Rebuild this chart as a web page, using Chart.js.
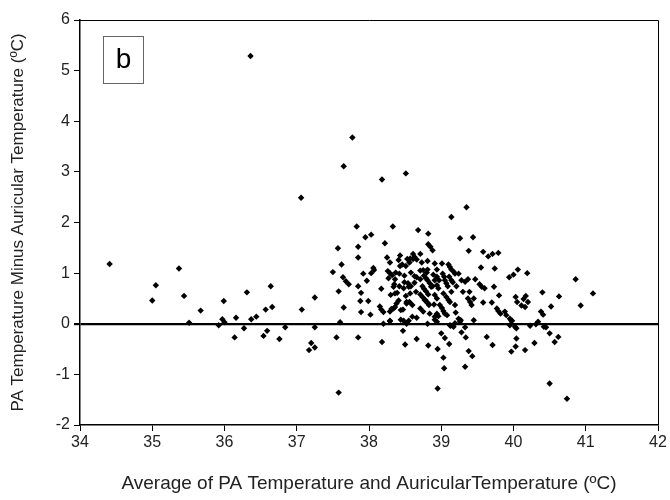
<!DOCTYPE html>
<html>
<head>
<meta charset="utf-8">
<script src="https://cdn.jsdelivr.net/npm/chart.js@4.4.1/dist/chart.umd.min.js"></script>
<style>
  html, body { margin: 0; padding: 0; background: #fff; }
</style>
</head>
<body>
<canvas id="chart" width="670" height="500"></canvas>
<script>
const xTicks = [34, 35, 36, 37, 38, 39, 40, 41, 42];
const yTicks = [-2, -1, 0, 1, 2, 3, 4, 5, 6];
const xTitle = 'Average of PA Temperature and AuricularTemperature (ºC)';
const yTitle = 'PA Temperature Minus Auricular Temperature (ºC)';
const panelLabel = 'b';

// [average temp, difference]
const points = [
  [34.41,1.18],[35.00,0.46],[35.05,0.76],[35.37,1.09],[35.44,0.55],[35.51,0.02],[35.67,0.26],[35.92,-0.03],
  [35.97,0.09],[36.00,0.03],[35.99,0.45],[36.14,-0.27],[36.16,0.12],[36.27,-0.09],[36.31,0.62],[36.37,0.09],
  [36.44,0.14],[36.54,-0.24],[36.57,0.28],[36.59,-0.14],[36.64,0.74],[36.66,0.33],[36.76,-0.30],[36.36,5.29],
  [36.84,-0.07],[37.25,-0.07],[37.07,0.28],[37.25,0.52],[37.06,2.49],[37.20,-0.38],[37.25,-0.47],[37.17,-0.52],
  [37.58,-1.36],[37.55,-0.27],[37.60,0.03],[37.65,0.32],
  [37.77,3.68],[37.65,3.11],[38.51,2.97],[38.18,2.85],[39.35,2.30],[39.14,2.11],[37.83,1.92],[38.33,1.92],
  [38.68,1.85],[38.82,1.78],[37.95,1.71],[38.03,1.76],[38.22,1.59],[39.26,1.69],[39.38,1.44],[37.57,1.49],
  [37.85,1.52],[37.85,1.31],[38.25,1.31],[38.43,1.35],[38.61,1.38],[38.71,1.38],[38.82,1.57],[38.85,1.52],
  [38.88,1.45],[38.57,1.29],[38.66,1.27],[39.44,1.71],[39.58,1.42],[39.65,1.33],[39.71,1.38],[39.79,1.40],
  [39.55,1.11],[39.74,1.09],[39.94,0.92],[40.00,0.97],[40.06,1.07],[40.19,1.00],[38.63,1.32],
  [40.86,0.88],[41.10,0.60],[40.93,0.36],[40.63,0.54],[40.40,0.62],[40.52,0.34],[40.38,0.24],[40.41,0.18],
  [40.45,-0.07],[40.50,-0.19],[40.57,-0.36],[40.62,-0.26],[40.50,-1.18],[40.74,-1.48],[40.29,-0.38],[40.16,-0.52],
  [40.04,-0.29],[40.03,-0.45],[39.97,-0.55],[39.98,0.06],[40.04,-0.09],[40.23,-0.04],[40.31,-0.01],[40.34,0.04],
  [40.42,-0.06],
  [38.82,-0.43],[38.95,-0.50],[39.00,-0.19],[39.05,-0.28],[39.11,-0.40],[39.03,-0.67],[39.04,-0.88],[38.95,-1.28],
  [39.13,-0.04],[39.19,0.01],[39.26,0.04],[39.33,-0.07],[39.28,-0.17],[39.34,-0.27],[39.38,-0.54],[39.43,-0.64],
  [39.33,-0.85],[39.63,-0.26],[39.71,-0.42],[38.47,-0.14],[38.50,-0.41],[38.66,-0.30],[37.85,-0.27],[38.18,-0.36],
  [38.20,0.00],[38.29,0.06],[38.48,0.06],[38.52,0.00],[38.55,0.06],[38.81,0.00],
  [38.29,1.21],[37.62,1.17],[37.50,1.02],[38.06,1.10],[38.07,1.06],[37.92,0.99],[38.03,1.00],[37.64,0.92],
  [37.68,0.84],[37.72,0.78],[37.97,0.85],[38.26,1.04],[38.29,1.00],[38.32,0.96],[38.43,1.14],[38.51,1.14],
  [38.56,1.21],[38.61,1.28],[38.41,1.26],[38.53,1.28],[38.46,1.17],
  [38.37,1.01],[38.42,0.99],[38.27,0.90],[38.36,0.88],[38.49,0.82],[38.55,0.73],[37.85,0.74],[37.89,0.61],
  [37.58,0.64],[38.17,0.69],[38.34,0.73],[38.39,0.61],[38.30,0.57],[38.57,0.60],
  [38.66,0.92],[38.71,0.88],[38.76,0.95],[38.80,1.01],[38.74,0.74],[38.76,0.69],[38.79,0.64],[38.82,0.58],
  [37.88,0.45],[37.99,0.45],[38.41,0.46],[38.38,0.40],[38.36,0.33],[38.52,0.43],[38.56,0.43],[38.77,0.47],
  [38.82,0.40],[38.15,0.34],[38.17,0.28],[38.20,0.23],[37.89,0.23],[38.02,0.18],[38.31,0.29],[38.47,0.28],
  [38.29,0.05],[38.44,0.08],[38.60,0.14],[38.66,0.12],
  [38.73,1.21],[38.81,1.24],[38.49,0.95],[38.58,1.01],[38.63,0.94],[38.71,1.05],[38.75,1.06],[38.81,1.07],
  [38.79,0.90],[38.81,0.86],[38.84,0.80],[38.88,0.74],[38.94,0.93],[38.97,0.86],
  [38.35,0.78],[38.42,0.74],[38.48,0.70],[38.54,0.80],[38.58,0.74],[38.63,0.81],[38.36,0.60],[38.51,0.55],
  [38.65,0.63],[38.71,0.58],[38.74,0.53],[38.78,0.47],[38.81,0.41],[38.83,0.37],[38.91,0.57],[38.94,0.50],
  [38.52,0.40],[38.60,0.37],[38.29,0.24],[38.34,0.30],[38.44,0.27],[38.71,0.30],[38.75,0.24],[38.84,0.20],
  [38.94,0.20],[38.96,0.15],[38.91,0.08],[38.94,0.04],
  [38.91,1.19],[39.01,1.19],[39.10,1.17],[39.12,1.12],[39.14,1.07],[39.17,1.03],[39.19,0.99],[38.94,1.07],
  [38.89,0.97],[38.91,0.86],
  [39.02,0.99],[39.04,0.93],[39.05,0.86],[39.07,0.80],[39.09,0.74],[39.11,0.93],[39.14,0.86],[39.16,0.82],
  [39.24,0.99],[39.28,0.86],[39.33,0.83],[39.37,0.88],[39.47,0.88],
  [38.94,0.76],[38.96,0.70],[38.86,0.73],[39.53,0.78],[39.56,0.73],[39.60,0.70],[39.80,0.56],[39.73,0.73],
  [39.21,0.74],[39.30,0.63],[39.39,0.63],[39.14,0.63],
  [39.03,0.60],[39.07,0.53],[39.10,0.47],[39.12,0.43],[38.90,0.38],[38.98,0.37],[39.01,0.31],[39.03,0.25],
  [39.05,0.20],[39.08,0.17],[39.19,0.37],[39.20,0.22],
  [39.37,0.50],[39.40,0.43],[39.42,0.37],[39.45,0.50],[39.58,0.42],[39.70,0.42],
  [39.77,0.30],[39.79,0.25],[39.82,0.20],[39.88,0.24],[39.90,0.17],[39.95,0.10],[39.97,0.06],
  [40.03,0.53],[40.05,0.43],[40.11,0.36],[40.17,0.55],[40.14,0.49],[40.20,0.43],[40.16,0.33],
  [38.91,0.14],[39.24,0.10],[39.27,0.07],[39.12,-0.03],[39.17,-0.06],[39.45,0.07],[39.95,-0.03],[40.02,-0.06]
];

const fontFamily = '"Liberation Sans", Arial, sans-serif';

// top/right frame lines and the "b" panel label
const framePlugin = {
  id: 'frame',
  afterDraw(chart) {
    const { ctx, chartArea: a } = chart;
    ctx.save();
    ctx.strokeStyle = '#000';
    ctx.lineWidth = 1;
    ctx.beginPath();
    ctx.moveTo(a.left, a.top + 0.5);
    ctx.lineTo(a.right + 0.5, a.top + 0.5);
    ctx.lineTo(a.right + 0.5, a.bottom);
    ctx.stroke();

    ctx.strokeStyle = '#666';
    ctx.strokeRect(a.left + 23.5, a.top + 16.5, 40, 47);
    ctx.fillStyle = '#000';
    ctx.font = '28px ' + fontFamily;
    ctx.textAlign = 'center';
    ctx.textBaseline = 'middle';
    ctx.fillText(panelLabel, a.left + 43.5, a.top + 40);
    ctx.restore();
  }
};

new Chart(document.getElementById('chart').getContext('2d'), {
  type: 'scatter',
  data: {
    datasets: [{
      data: points.map(p => ({ x: p[0], y: p[1] })),
      pointStyle: 'rectRot',
      pointRadius: 3.2,
      borderWidth: 0,
      backgroundColor: '#000',
      borderColor: '#000'
    }]
  },
  options: {
    responsive: false,
    animation: false,
    layout: { padding: { left: 0, top: 20, right: 12, bottom: 0 } },
    plugins: { legend: { display: false }, tooltip: { enabled: false } },
    scales: {
      x: {
        type: 'linear',
        min: xTicks[0],
        max: xTicks[xTicks.length - 1],
        afterBuildTicks: s => { s.ticks = xTicks.map(v => ({ value: v })); },
        afterFit: s => { s.height = 75; },
        ticks: { color: '#222', padding: 2, font: { family: fontFamily, size: 16 } },
        grid: { drawOnChartArea: false, tickLength: 6, tickColor: '#000' },
        border: { color: '#000', width: 1.5 },
        title: {
          display: true, text: xTitle, color: '#222',
          font: { family: fontFamily, size: 19 }, padding: { top: 0, bottom: 5 }
        }
      },
      y: {
        type: 'linear',
        min: yTicks[0],
        max: yTicks[yTicks.length - 1],
        afterBuildTicks: s => { s.ticks = yTicks.map(v => ({ value: v })); },
        afterFit: s => { s.width = 80; },
        ticks: { color: '#222', padding: 4, font: { family: fontFamily, size: 16 } },
        grid: {
          color: c => (c.tick && c.tick.value === 0 ? '#000' : 'rgba(0,0,0,0)'),
          lineWidth: c => (c.tick && c.tick.value === 0 ? 2.2 : 1),
          tickLength: 6,
          tickColor: '#000'
        },
        border: { color: '#000', width: 1.5 },
        title: {
          display: true, text: yTitle, color: '#222',
          font: { family: fontFamily, size: 17 }, padding: { top: 8, bottom: 0 }
        }
      }
    }
  },
  plugins: [framePlugin]
});
</script>
</body>
</html>
